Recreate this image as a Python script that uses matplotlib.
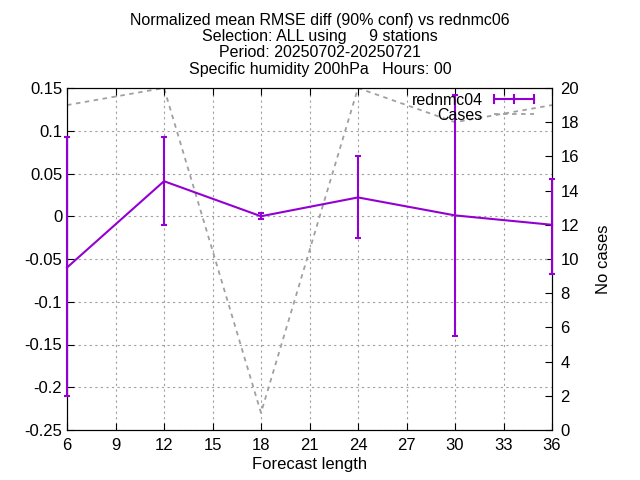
import matplotlib
matplotlib.use("Agg")
import matplotlib.pyplot as plt
from matplotlib.legend_handler import HandlerBase
from matplotlib.lines import Line2D
import numpy as np

plt.rcParams['font.family'] = ['Liberation Sans', 'DejaVu Sans']

lead = [6, 12, 18, 24, 30, 36]
diff = [-0.06, 0.041, 0.0, 0.022, 0.001, -0.01]
err_lo = [-0.21, -0.01, -0.003, -0.026, -0.14, -0.067]
err_hi = [0.093, 0.093, 0.004, 0.070, 0.142, 0.043]
cases = [19, 20, 1, 20, 18, 19]

title = ("Normalized mean RMSE diff (90% conf) vs rednmc06\n"
         "Selection: ALL using     9 stations\n"
         "Period: 20250702-20250721\n"
         "Specific humidity 200hPa   Hours: 00")

purple = '#9400D3'
grey = '#A0A0A0'


class HErrHandler(HandlerBase):
    def create_artists(self, legend, orig_handle, xdescent, ydescent,
                       width, height, fontsize, trans):
        y = height / 2 - ydescent
        x0, x1 = -xdescent, width - xdescent
        xm = (x0 + x1) / 2
        h = height * 0.35
        arts = [Line2D([x0, x1], [y, y])]
        for xx in (x0, xm, x1):
            arts.append(Line2D([xx, xx], [y - h, y + h]))
        for a in arts:
            a.set_color(purple)
            a.set_linewidth(1.5)
            a.set_transform(trans)
        return arts


fig = plt.figure(figsize=(6.4, 4.8), dpi=100)
ax = fig.add_axes([67/640, 1 - 430/480, (552 - 67)/640, (430 - 88)/480])
ax2 = ax.twinx()

ax2.plot(lead, cases, color=grey, linestyle=(0, (2.5, 2.5)), linewidth=1.3, label='Cases')
ax2.set_ylim(0, 20)
ax2.set_yticks(np.arange(0, 21, 2))
ax2.set_ylabel('No cases', fontsize=12, labelpad=12)

lo = np.array(diff) - np.array(err_lo)
hi = np.array(err_hi) - np.array(diff)
eb = ax.errorbar(lead, diff, yerr=[lo, hi], color=purple, linewidth=1.5,
                 capsize=2.5, capthick=1.5, label='rednmc04', zorder=5)
for art in eb.get_children():
    art.set_clip_on(False)
ax.set_zorder(ax2.get_zorder() + 1)
ax.patch.set_visible(False)

ax.set_xlim(6, 36)
ax.set_xticks(np.arange(6, 37, 3))
ax.set_ylim(-0.25, 0.15)
ax.set_yticks(np.arange(-0.25, 0.151, 0.05))
ax.set_yticklabels(['-0.25', '-0.2', '-0.15', '-0.1', '-0.05', '0', '0.05', '0.1', '0.15'])
ax.set_xlabel('Forecast length', fontsize=12, labelpad=3)
ax.grid(True, color='#A0A0A0', linestyle=(0, (2, 3)), linewidth=0.8)

for a in (ax, ax2):
    a.tick_params(labelsize=12, direction='in', length=5)
ax.tick_params(axis='x', top=True, pad=6)
ax2.tick_params(axis='y', pad=6)

fig.text(0.5, 1 - 13/480, title, fontsize=11.5, ha='center', va='top',
         linespacing=1.1)

h2, l2 = ax2.get_legend_handles_labels()
leg = ax.legend([eb] + h2, ['rednmc04'] + l2, loc='upper right', frameon=False,
                fontsize=11.5, markerfirst=False, handlelength=2.5,
                borderaxespad=0.0, borderpad=0.0, labelspacing=0.0,
                handletextpad=0.7,
                bbox_to_anchor=(1 - 18/485, 1 - 5/342),
                handler_map={type(eb): HErrHandler()})

fig.savefig('out.png', dpi=100)
